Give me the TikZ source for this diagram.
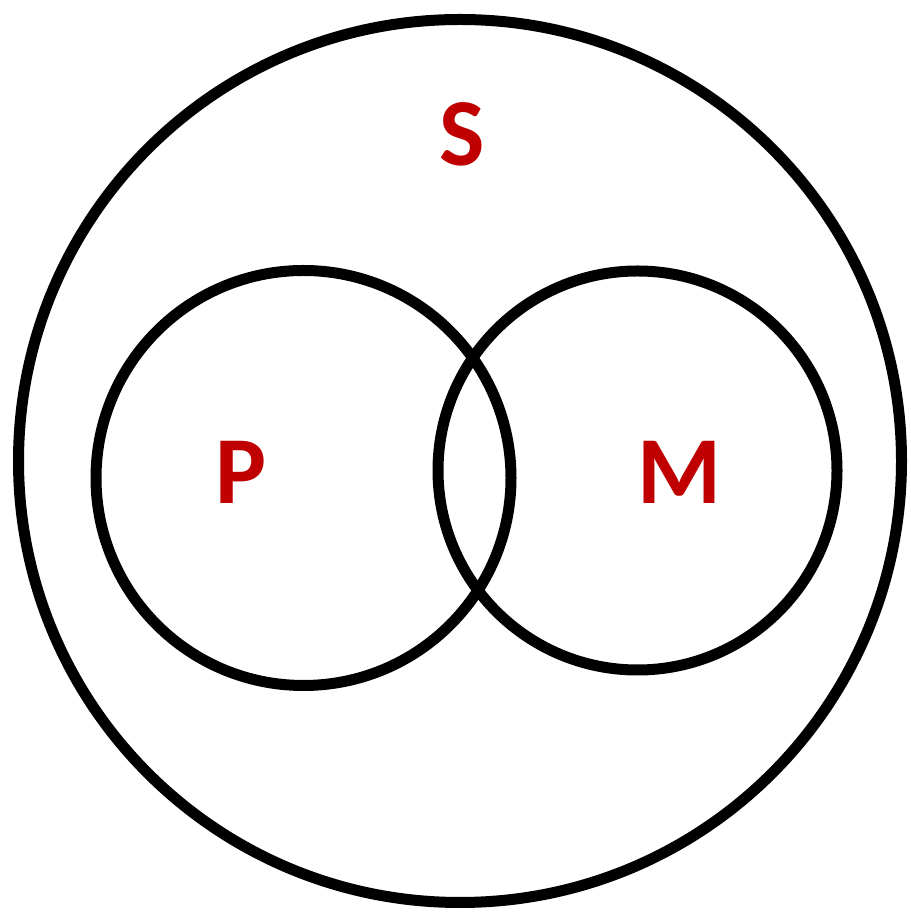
\documentclass[tikz,border=0pt]{standalone}
\usepackage{fontspec}
\setmainfont{Carlito}
\definecolor{lbl}{HTML}{C00000}
\begin{document}
\begin{tikzpicture}[x=1pt,y=1pt,
  ring/.style={draw=black,line width=11pt},
  lab/.style={text=lbl,font=\bfseries\fontsize{96}{96}\selectfont,inner sep=0pt,anchor=center}]
\useasboundingbox (0,0) rectangle (910,912);
\draw[ring] (460,451) circle[radius=441.5];
\draw[ring] (303.5,434) circle[radius=207.5];
\draw[ring] (637.5,441.5) circle[radius=199.5];
\node[lab] (S) at (462,778) {S};
\node[lab] (P) at (241,440) {P};
\node[lab] (M) at (679,440) {M};
\end{tikzpicture}
\end{document}
